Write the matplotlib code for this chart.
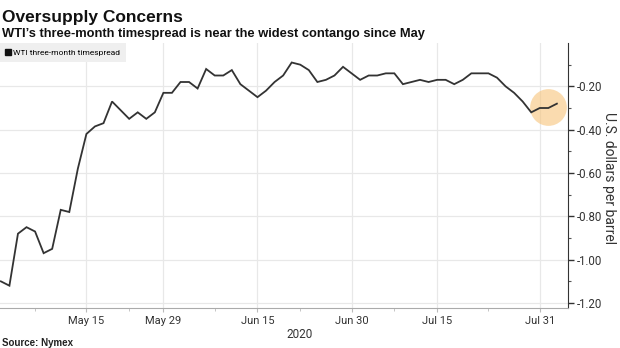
import numpy as np
import pandas as pd
import matplotlib
matplotlib.use('Agg')
import matplotlib.pyplot as plt
from matplotlib.lines import Line2D

# WTI three-month timespread, one value per trading day (May 1 - Aug 4, 2020)
spread = [-1.10, -1.12, -0.88, -0.85, -0.87, -0.97, -0.95, -0.77, -0.78, -0.58,
          -0.42, -0.385, -0.37, -0.27, -0.31, -0.35, -0.32, -0.35, -0.32, -0.23,
          -0.23, -0.18, -0.18, -0.21, -0.12, -0.15, -0.15, -0.125, -0.19, -0.22,
          -0.25, -0.22, -0.18, -0.15, -0.09, -0.10, -0.125, -0.18, -0.17, -0.15,
          -0.11, -0.14, -0.17, -0.15, -0.15, -0.14, -0.14, -0.19, -0.18, -0.17,
          -0.18, -0.17, -0.17, -0.19, -0.17, -0.14, -0.14, -0.14, -0.16, -0.20,
          -0.23, -0.27, -0.32, -0.30, -0.30, -0.28]
holidays = ['2020-05-25', '2020-07-03']
tick_dates = ['2020-05-15', '2020-05-29', '2020-06-15', '2020-06-30', '2020-07-15', '2020-07-31']
tick_labels = ['May 15', 'May 29', 'Jun 15', 'Jun 30', 'Jul 15', 'Jul 31']
minor_dates = ['2020-05-07', '2020-05-22', '2020-06-08', '2020-06-22', '2020-07-08', '2020-07-23']
y_ticks = [-0.2, -0.4, -0.6, -0.8, -1.0, -1.2]

dates = pd.bdate_range('2020-05-01', '2020-08-04', freq='C', holidays=holidays)
x = np.arange(len(spread))
pos = {d: i for i, d in enumerate(dates)}

narrow = ['Roboto', 'DejaVu Sans']
bold = ['Liberation Sans', 'DejaVu Sans']

fig = plt.figure(figsize=(6.2, 3.48), dpi=100)
ax = fig.add_axes([0, 40 / 348, 568 / 620, 265 / 348])

ax.plot(x, spread, color='#333333', lw=1.3, solid_joinstyle='miter', zorder=3)

# highlight on the latest readings
ax.scatter([x[-3:].mean()], [np.mean(spread[-3:])], s=700, color='#f7c47a',
           alpha=0.6, lw=0, zorder=2)

ax.set_xlim(-0.1, 66.3)
ax.set_ylim(-1.223, 0.0)

ax.set_xticks([pos[pd.Timestamp(d)] for d in tick_dates])
ax.set_xticklabels(tick_labels, family=narrow, fontsize=8, color='#333333')
ax.set_xticks([pos[pd.Timestamp(d)] for d in minor_dates], minor=True)
ax.set_yticks(y_ticks)
ax.set_yticklabels(['%.2f' % v for v in y_ticks], family=narrow, fontsize=8.3, color='#333333')
ax.set_yticks(np.arange(-1.1, 0.01, 0.2), minor=True)

ax.yaxis.tick_right()
ax.yaxis.set_label_position('right')
ax.set_ylabel('U.S. dollars per barrel', family=narrow, fontsize=10,
              color='#333333', rotation=-90, va='center')
ax.yaxis.set_label_coords(609 / 568, 0.49)
ax.tick_params(axis='y', which='major', length=4, width=1, color='#333333', pad=2)
ax.tick_params(axis='y', which='minor', length=2, width=0.8, color='#555555')
ax.tick_params(axis='x', which='major', length=3, color='#bbbbbb', pad=3)
ax.tick_params(axis='x', which='minor', length=2, color='#bbbbbb')

ax.grid(True, which='major', color='#e8e8e8', lw=0.9, zorder=0)
for s in ['top', 'left']:
    ax.spines[s].set_visible(False)
ax.spines['right'].set_color('#333333')
ax.spines['bottom'].set_color('#aaaaaa')

handle = Line2D([], [], marker='s', color='#111111', ls='', markersize=4)
leg = ax.legend([handle], ['WTI three-month timespread'], loc='upper left',
                bbox_to_anchor=(0, 1.0), prop={'family': narrow, 'size': 6},
                handlelength=0.6, handletextpad=0.3, borderpad=0.7,
                frameon=True, fancybox=False, borderaxespad=0)
leg.get_frame().set_facecolor('#efefef')
leg.get_frame().set_edgecolor('none')
leg.get_frame().set_alpha(1)

fig.text(0.004, 1 - 22 / 348, 'Oversupply Concerns', family=bold,
         fontsize=12.5, fontweight='bold', color='#111111')
fig.text(0.004, 1 - 37 / 348, 'WTI\u2019s three-month timespread is near the widest contango since May',
         family=bold, fontsize=9.3, fontweight='bold', color='#111111')
fig.text(300 / 620, 1 - 338 / 348, '2020', family=narrow, fontsize=8.5, color='#333333', ha='center')
fig.text(0.004, 1 - 346 / 348, 'Source: Nymex', family=bold,
         fontsize=7, fontweight='bold', color='#222222')

fig.savefig('out.png', dpi=100)
